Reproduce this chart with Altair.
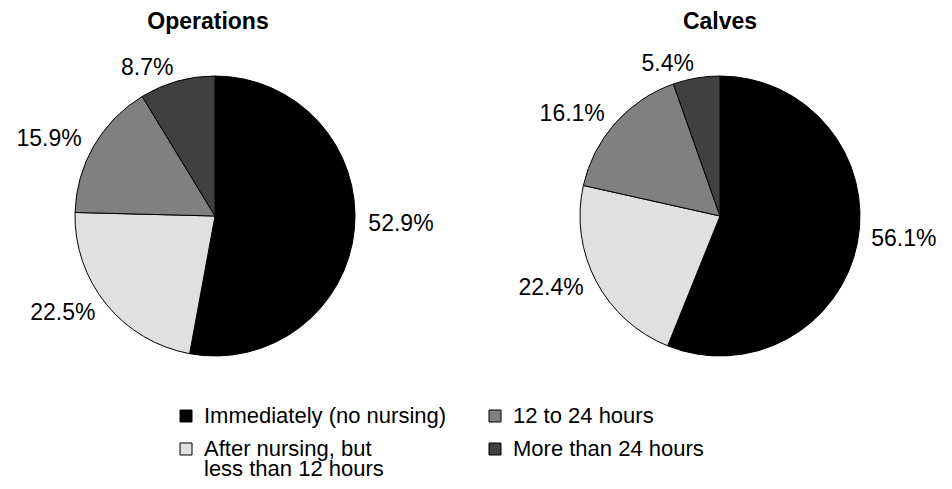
import altair as alt
import pandas as pd

charts = ["Operations", "Calves"]
categories = [
    "Immediately (no nursing)",
    "After nursing, but\nless than 12 hours",
    "12 to 24 hours",
    "More than 24 hours",
]
operations_pct = [52.9, 22.5, 15.9, 8.7]
calves_pct = [56.1, 22.4, 16.1, 5.4]
colors = ["#000000", "#e0e0e0", "#808080", "#404040"]

rows = []
for chart, vals in zip(charts, [operations_pct, calves_pct]):
    for i, (cat, v) in enumerate(zip(categories, vals)):
        rows.append({"chart": chart, "category": cat, "value": v, "order": i})
pie_df = pd.DataFrame(rows)
titles_df = pd.DataFrame({"chart": charts})
legend_df = pd.DataFrame({"category": categories, "idx": list(range(len(categories)))})

FONT = "Liberation Sans, Arial, Helvetica, sans-serif"

xscale = alt.Scale(type="point", domain=charts, range=[207, 712], padding=0)
title_xscale = alt.Scale(type="point", domain=charts, range=[200, 712], padding=0)
theta_scale = alt.Scale(domain=[0, 100])
color_scale = alt.Scale(domain=categories, range=colors)

base = alt.Chart(pie_df).transform_window(
    end="sum(value)", groupby=["chart"], sort=[alt.SortField("order")],
    frame=[None, 0]
).transform_calculate(
    start="datum.end - datum.value",
    mid="datum.end - datum.value / 2",
    lbl="format(datum.value, '.1f') + '%'",
)

arcs = base.mark_arc(radius=140, stroke="black", strokeWidth=1).encode(
    x=alt.X("chart:N", scale=xscale, axis=None),
    y=alt.value(208),
    theta=alt.Theta("start:Q", scale=theta_scale),
    theta2="end:Q",
    color=alt.Color("category:N", scale=color_scale, legend=None),
)

label_enc = dict(
    x=alt.X("chart:N", scale=xscale, axis=None),
    y=alt.value(208),
    theta=alt.Theta("mid:Q", scale=theta_scale),
    text="lbl:N",
)

labels_right = base.transform_filter("datum.mid < 50").mark_text(
    radius=154, fontSize=23, font=FONT, color="black", align="left",
    baseline="middle", dy=-6,
).encode(**label_enc)

labels_left = base.transform_filter("datum.mid >= 50").mark_text(
    radius=154, fontSize=23, font=FONT, color="black", align="right",
    baseline="middle",
).encode(**label_enc)

titles = alt.Chart(titles_df).mark_text(
    fontSize=23, fontWeight="bold", font=FONT, color="black", baseline="middle"
).encode(
    x=alt.X("chart:N", scale=title_xscale, axis=None),
    y=alt.value(14),
    text="chart:N",
)

leg_base = alt.Chart(legend_df).transform_calculate(
    col="floor(datum.idx / 2)", row="datum.idx % 2"
)
leg_x = alt.X("col:O", scale=alt.Scale(type="point", domain=[0, 1], range=[178, 487], padding=0), axis=None)
leg_y = alt.Y("row:O", scale=alt.Scale(type="point", domain=[0, 1], range=[408, 441], padding=0), axis=None)

leg_sq = leg_base.mark_square(size=144, stroke="black", strokeWidth=1, opacity=1).encode(
    x=leg_x, y=leg_y,
    color=alt.Color("category:N", scale=color_scale, legend=None),
)
leg_txt = leg_base.mark_text(
    align="left", baseline="alphabetic", dx=18, dy=7, fontSize=22, font=FONT,
    color="black", lineBreak="\n", lineHeight=20,
).encode(x=leg_x, y=leg_y, text="category:N")

chart = alt.layer(arcs, labels_right, labels_left, titles, leg_sq, leg_txt).resolve_scale(
    x="independent", y="independent"
).properties(
    width=936, height=473, padding=0, autosize=alt.AutoSizeParams(type="none")
).configure_view(stroke=None)

chart.save("out.html", embed_options={"renderer": "svg", "actions": False})
